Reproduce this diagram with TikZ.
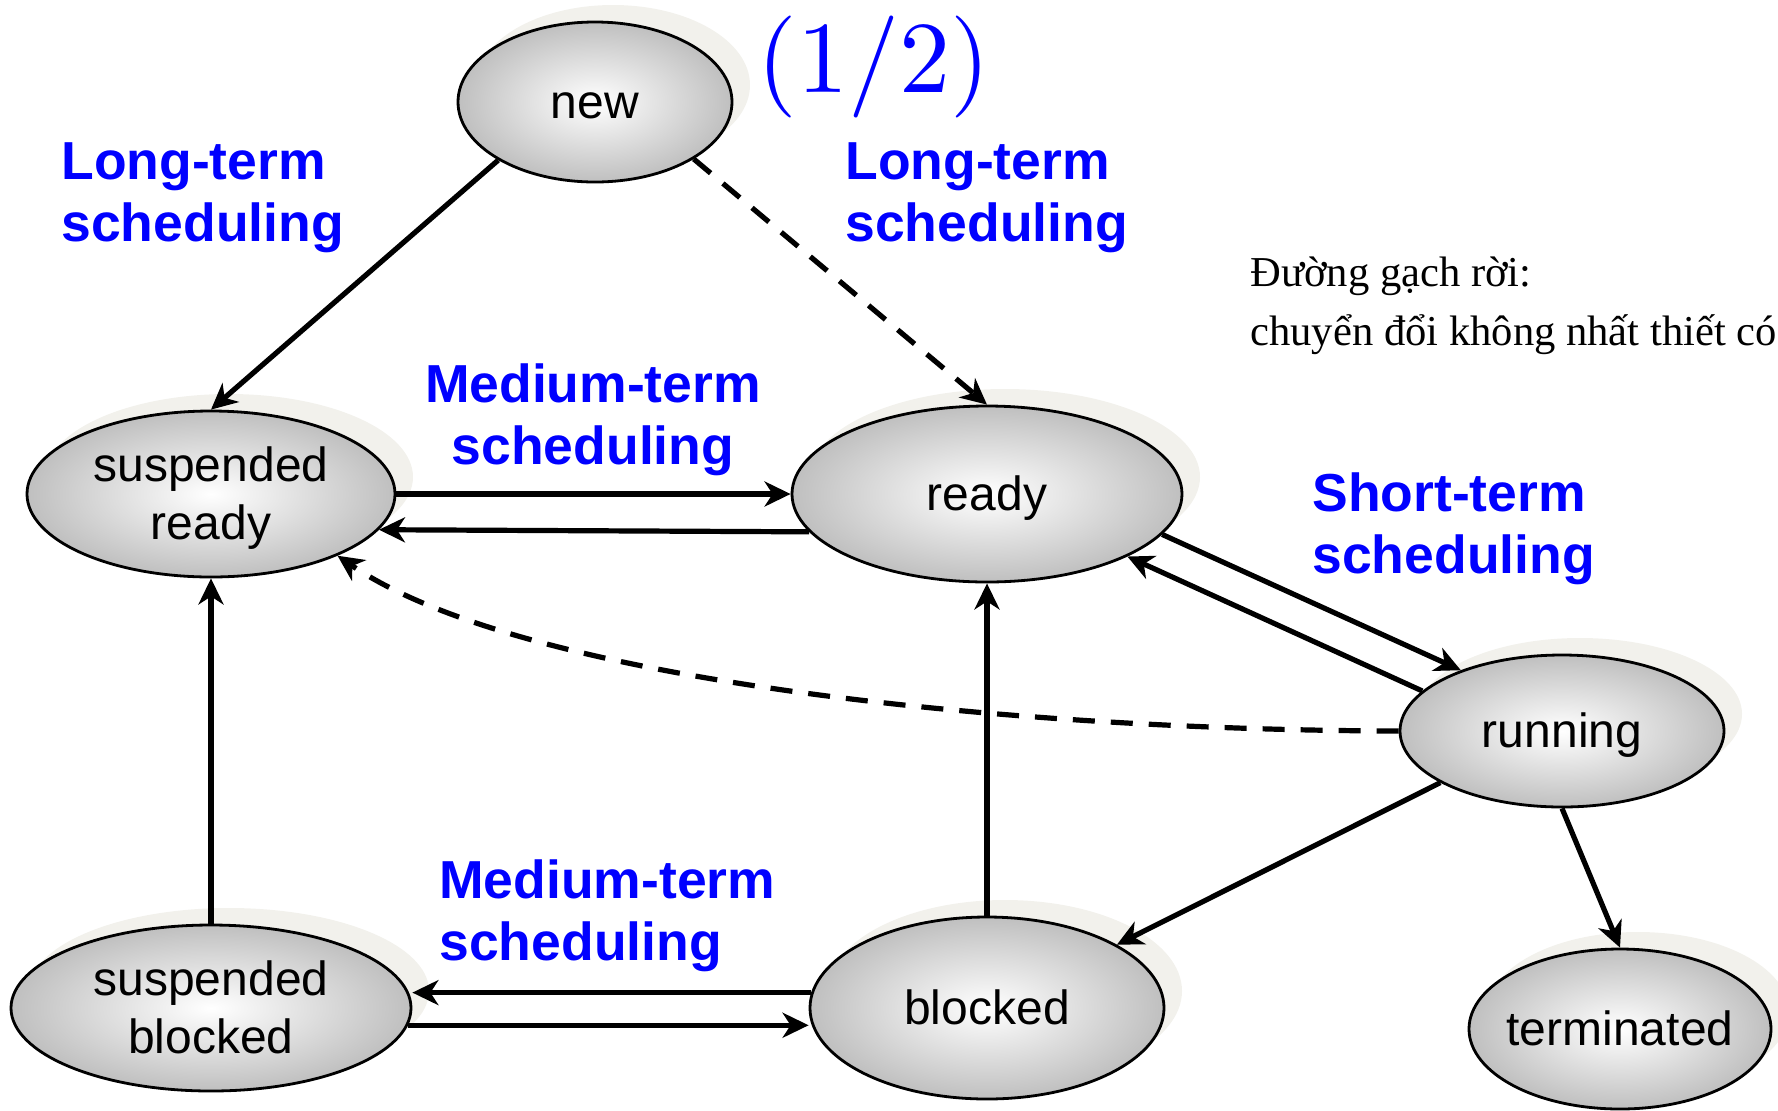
\documentclass[tikz,border=0pt]{standalone}
\usepackage{fontspec}
\newfontfamily\arialfont{Liberation Sans}
\newfontfamily\timesfont{Liberation Serif}
\newfontfamily\lmtenfont{lmroman10-regular.otf}
\usepackage{tikz}
\usetikzlibrary{shapes.geometric,arrows.meta,shadows}
\definecolor{shadowgray}{RGB}{242,241,236}
\tikzset{pstate/.style={ellipse, draw=black, line width=1.4pt, inner sep=-5pt,
    inner color=white, outer color=black!25,
    general shadow={fill=shadowgray, shadow xshift=9pt, shadow yshift=8.5pt},
    font=\arialfont\fontsize{24}{29}\selectfont, align=center,
    text height=21.6pt, text depth=5.3pt},
  twoline/.style={text height=50.6pt},
  sched/.style={text=blue, inner sep=0pt,
    font=\arialfont\bfseries\fontsize{26.75}{31}\selectfont},
  dashes/.style={dash pattern=on 11pt off 8pt}
}

\begin{document}
\begin{tikzpicture}[> = {Stealth[length=13pt,width=12.5pt,inset=4pt]}, x=0.5pt, y=-0.5pt]
    \useasboundingbox (0,0) rectangle (1778,1110);

    \node[pstate, minimum width=137pt, minimum height=80pt] (new)   at (595,102)  {new};
    \node[pstate, twoline, minimum width=184pt, minimum height=83pt] (s_rdy) at (211,494)  {suspended\\ready};
    \node[pstate, minimum width=195pt, minimum height=88pt] (rdy)   at (987,494)  {ready};
    \node[pstate, minimum width=162pt, minimum height=76pt] (run)   at (1562,731) {running};
    \node[pstate, twoline, minimum width=200pt, minimum height=83pt] (s_blk) at (211,1008) {suspended\\blocked};
    \node[pstate, minimum width=177pt, minimum height=91pt] (blk)   at (987,1008) {blocked};
    \node[pstate, minimum width=151pt, minimum height=80pt] (term)  at (1620,1029) {terminated};

    \node[sched, anchor=base west, align=left]  (lt_a) at (61,241)  {Long-term\\scheduling};
    \node[sched, anchor=base west, align=left]  (lt_b) at (845,241) {Long-term\\scheduling};
    \node[sched, anchor=base, align=center]     (mt_a) at (593,464) {Medium-term\\scheduling};
    \node[sched, anchor=base west, align=left]  (st)   at (1312,573) {Short-term\\scheduling};
    \node[sched, anchor=base west, align=left]  (mt_b) at (439,960) {Medium-term\\scheduling};

    \node[text=blue, inner sep=0pt, anchor=base west, font=\lmtenfont\fontsize{51}{51}\selectfont] (part) at (757,92) {(1/2)};
    \node[inner sep=0pt, anchor=base west, align=left, font=\timesfont\fontsize{21.3}{29.5}\selectfont] (note) at (1250,345)
        {Đường gạch rời:\\chuyển đổi không nhất thiết có};

    \path[->, line width=2.6pt]
        (new.-149)   edge          (s_rdy.north)
        (new.-30)    edge [dashes] (rdy.north)
        (s_rdy.east) edge          (rdy.west)
        (rdy.-168)   edge          (s_rdy.-12.5)
        (rdy.-13)    edge          (run.149)
        (run.164)    edge          (rdy.-24)
        (run.-157)   edge          (blk.26)
        (run.south)  edge          (term.north)
        (blk.north)  edge          (rdy.south)
        (s_blk.north) edge         (s_rdy.south)
        (blk.175)    edge          (blk.175 -| s_blk.east)
        (s_blk.-5)   edge          (s_blk.-5 -| blk.west);
    \draw[->, line width=2.6pt, dashes] (run.west) .. controls +(-400,-1) and +(181,124) .. (s_rdy.-26);
\end{tikzpicture}
\end{document}
